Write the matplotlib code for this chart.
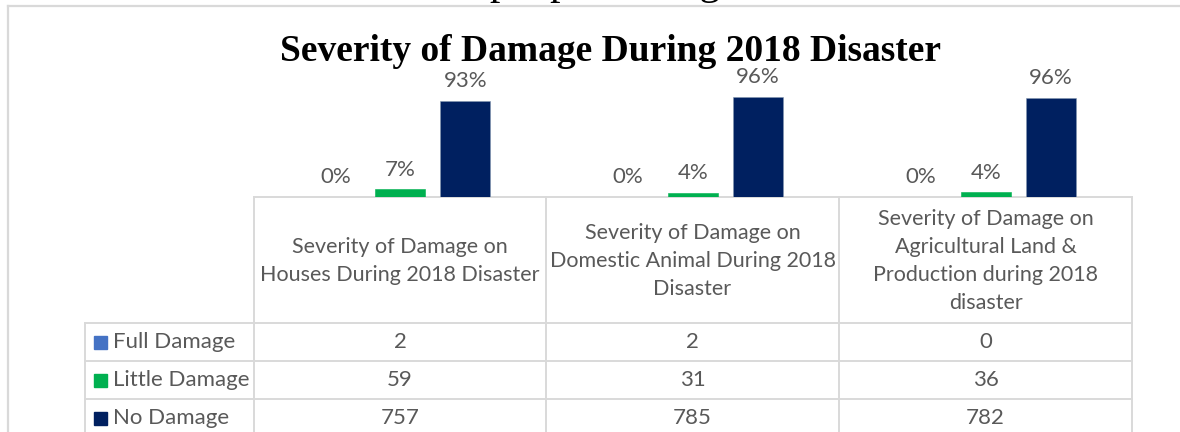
import matplotlib
matplotlib.use("Agg")
import matplotlib.pyplot as plt
import numpy as np

# Data
categories = [
    "Severity of Damage on\nHouses During 2018 Disaster",
    "Severity of Damage on\nDomestic Animal During 2018\nDisaster",
    "Severity of Damage on\nAgricultural Land &\nProduction during 2018\ndisaster",
]
series_names = ["Full Damage", "Little Damage", "No Damage"]
full_damage = [2, 2, 0]
little_damage = [59, 31, 36]
no_damage = [757, 785, 782]
colors = ["#4472C4", "#00B050", "#002060"]

W, H = 1180, 432
TEXT = "#595959"
GRID = "#d9d9d9"
FONT = "Lato"


def fx(x):
    return x / W


def fy(y):
    return 1 - y / H


fig = plt.figure(figsize=(W / 100, H / 100), dpi=100)

# Overlay in pixel coordinates for frame and data table
ov = fig.add_axes([0, 0, 1, 1])
ov.set_xlim(0, W)
ov.set_ylim(H, 0)
ov.axis("off")

# chart frame (top + left edges visible)
ov.plot([8, W], [6, 6], color=GRID, lw=1.6)
ov.plot([8, 8], [6, H], color=GRID, lw=1.6)

# page text above the chart (cut off by the crop, as in the source)
fig.text(fx(490), fy(-6), "people during", family="Liberation Serif",
         fontsize=30, color="black", ha="left", va="baseline")

# title
fig.text(fx(611), fy(61), "Severity of Damage During 2018 Disaster",
         family="Liberation Serif", fontweight="bold", fontsize=27,
         ha="center", va="baseline", color="black")

# bars
counts = np.array([full_damage, little_damage, no_damage], dtype=float)
totals = counts.sum(axis=0)
pct = counts / totals * 100

col_x = [254, 546, 839, 1132]
base_y = 197
px_per_pct = 1.04
ymax = 130
ax = fig.add_axes([fx(254), fy(base_y), (1132 - 254) / W, ymax * px_per_pct / H])
ax.set_xlim(-0.5, 2.5)
ax.set_ylim(0, ymax)
ax.axis("off")

cat_w = (1132 - 254) / 3
offsets = [-65 / cat_w, 0, 65 / cat_w]
bw = 50 / cat_w
x = np.arange(len(categories))
for i, name in enumerate(series_names):
    bars = ax.bar(x + offsets[i], pct[i], width=bw, color=colors[i],
                  edgecolor="#8497b0" if i == 2 else colors[i], linewidth=0.4)
    ax.bar_label(bars, labels=[f"{v:.0f}%" for v in pct[i]], padding=7,
                 fontsize=16, color=TEXT, family=FONT)

# data table
row_y = [197, 323, 361, 399, 437]
label_x = 85
# vertical lines
ov.plot([label_x, label_x], [row_y[1], H], color=GRID, lw=1.4)
for cx in col_x:
    ov.plot([cx, cx], [row_y[0], H], color=GRID, lw=1.4)
# horizontal lines
ov.plot([col_x[0], col_x[-1]], [row_y[0], row_y[0]], color=GRID, lw=1.4)
for ry in row_y[1:4]:
    ov.plot([label_x, col_x[-1]], [ry, ry], color=GRID, lw=1.4)

for j, cat in enumerate(categories):
    cx = (col_x[j] + col_x[j + 1]) / 2
    ov.text(cx, (row_y[0] + row_y[1]) / 2 + 1, cat, ha="center", va="center",
            fontsize=15.5, color=TEXT, family=FONT, linespacing=1.5)

for i, name in enumerate(series_names):
    cy = (row_y[i + 1] + row_y[i + 2]) / 2
    ov.add_patch(plt.Rectangle((94, cy - 6.5), 13, 13, color=colors[i]))
    ov.text(113, cy, name, ha="left", va="center", fontsize=16,
            color=TEXT, family=FONT)
    for j in range(len(categories)):
        cx = (col_x[j] + col_x[j + 1]) / 2
        ov.text(cx, cy, f"{int(counts[i][j])}", ha="center", va="center",
                fontsize=16, color=TEXT, family=FONT)

fig.savefig("out.png", dpi=100)
